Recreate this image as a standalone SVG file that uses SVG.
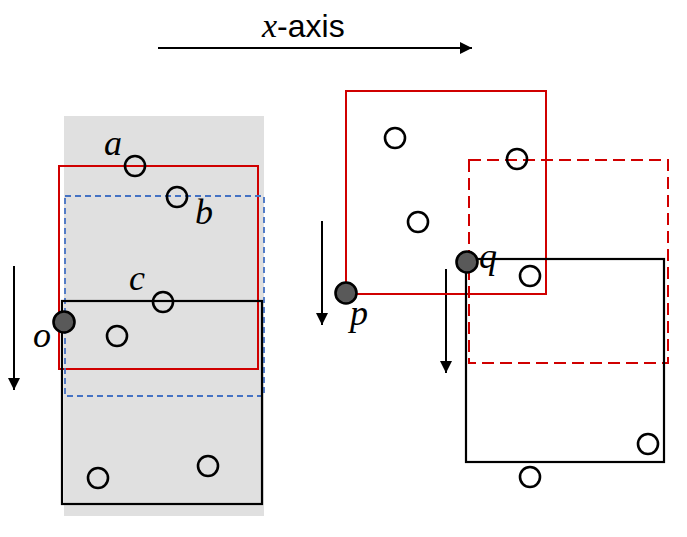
<svg xmlns="http://www.w3.org/2000/svg" width="687" height="537" viewBox="0 0 687 537">
<style>
.pt{fill:none;stroke:#000;stroke-width:2.6}
.fp{fill:#595959;stroke:#000;stroke-width:2.6}
.lbl{font-family:"Liberation Serif",serif;font-style:italic;font-size:36px;fill:#000}
.blk{fill:none;stroke:#000;stroke-width:2.2}
.red{fill:none;stroke:#d00000;stroke-width:2}
.ax{stroke:#000;stroke-width:2;fill:none}
</style>
<defs>
<marker id="ah" markerWidth="12" markerHeight="12" refX="11" refY="5.5" orient="auto" markerUnits="userSpaceOnUse" viewBox="0 0 11 11">
<path d="M0,0 L11,5.5 L0,11 Z" fill="#000"/>
</marker>
</defs>
<rect x="0" y="0" width="687" height="537" fill="#fff"/>
<rect id="bg" x="64" y="116" width="200" height="400" fill="#e0e0e0"/>
<g id="connectors">
<line class="ax" x1="158" y1="48" x2="472" y2="48" marker-end="url(#ah)"/>
<line class="ax" x1="14" y1="266" x2="14" y2="390" marker-end="url(#ah)"/>
<line class="ax" x1="322" y1="221" x2="322" y2="325" marker-end="url(#ah)"/>
<line class="ax" x1="446" y1="269" x2="446" y2="373" marker-end="url(#ah)"/>
</g>
<g id="axis-label"><text x="262" y="37" font-family="Liberation Sans,sans-serif" font-size="32"><tspan font-family="Liberation Serif,serif" font-style="italic" font-size="34">x</tspan>-axis</text></g>
<g id="left-red"><rect class="red" x="59" y="166" width="199" height="203"/></g>
<g id="left-blue"><rect x="65" y="196" width="199" height="200" fill="none" stroke="#4472c4" stroke-width="1.8" stroke-dasharray="6,4"/></g>
<g id="left-black"><rect class="blk" x="62" y="301" width="200" height="203"/></g>
<g id="right-red"><rect class="red" x="346" y="91" width="200" height="203"/></g>
<g id="right-red-dashed"><rect class="red" x="469" y="160" width="199" height="203" stroke-dasharray="12,6"/></g>
<g id="right-black"><rect class="blk" x="466" y="259" width="198" height="203"/></g>
<g id="points">
<circle class="pt" cx="135" cy="166" r="10"/>
<circle class="pt" cx="177" cy="197" r="10"/>
<circle class="pt" cx="163" cy="302" r="10"/>
<circle class="pt" cx="117" cy="336" r="10"/>
<circle class="pt" cx="98" cy="478" r="10"/>
<circle class="pt" cx="208" cy="466" r="10"/>
<circle class="pt" cx="395" cy="138" r="10"/>
<circle class="pt" cx="517" cy="159" r="10"/>
<circle class="pt" cx="418" cy="222" r="10"/>
<circle class="pt" cx="530" cy="276" r="10"/>
<circle class="pt" cx="648" cy="444" r="10"/>
<circle class="pt" cx="530" cy="477" r="10"/>
</g>
<g id="o"><circle class="fp" cx="64" cy="322" r="10.5"/><text class="lbl" x="33" y="347">o</text></g>
<g id="p"><circle class="fp" cx="346" cy="293" r="10.5"/><text class="lbl" x="350" y="325">p</text></g>
<g id="q"><circle class="fp" cx="467" cy="262" r="10.5"/><text class="lbl" x="479" y="268">q</text></g>
<g id="labels">
<text class="lbl" x="104" y="155">a</text>
<text class="lbl" x="195" y="224">b</text>
<text class="lbl" x="129" y="290">c</text>
</g>
</svg>
